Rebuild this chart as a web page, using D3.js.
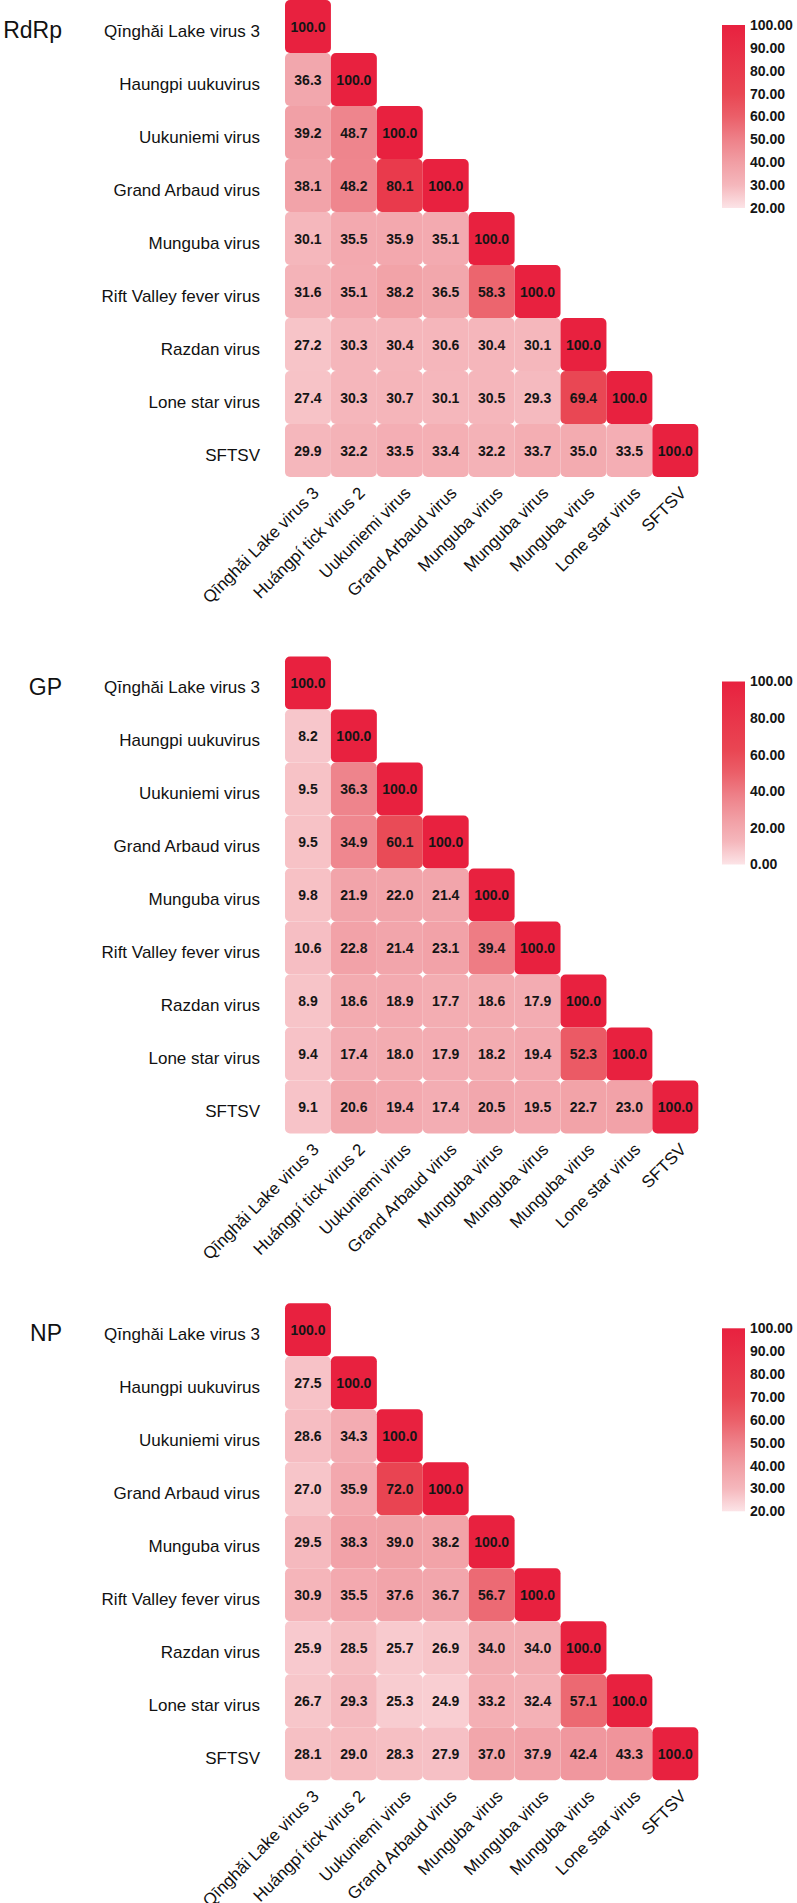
<!DOCTYPE html>
<html>
<head>
<meta charset="utf-8">
<script src="https://cdn.jsdelivr.net/npm/d3@7"></script>
<style>
body { margin: 0; background: #fff; }
text { font-family: "Liberation Sans", Arial, sans-serif; }
</style>
</head>
<body>
<div id="viz"></div>
<script>
// labels of the matrix
var rowNames = ["Qīnghǎi Lake virus 3", "Haungpi uukuvirus", "Uukuniemi virus", "Grand Arbaud virus",
  "Munguba virus", "Rift Valley fever virus", "Razdan virus", "Lone star virus", "SFTSV"];
var colNames = ["Qīnghǎi Lake virus 3", "Huángpí tick virus 2", "Uukuniemi virus", "Grand Arbaud virus",
  "Munguba virus", "Munguba virus", "Munguba virus", "Lone star virus", "SFTSV"];

// identity (%) lower triangles, row by row
var rdrpValues = [
  [100.0],
  [36.3, 100.0],
  [39.2, 48.7, 100.0],
  [38.1, 48.2, 80.1, 100.0],
  [30.1, 35.5, 35.9, 35.1, 100.0],
  [31.6, 35.1, 38.2, 36.5, 58.3, 100.0],
  [27.2, 30.3, 30.4, 30.6, 30.4, 30.1, 100.0],
  [27.4, 30.3, 30.7, 30.1, 30.5, 29.3, 69.4, 100.0],
  [29.9, 32.2, 33.5, 33.4, 32.2, 33.7, 35.0, 33.5, 100.0]
];
var gpValues = [
  [100.0],
  [8.2, 100.0],
  [9.5, 36.3, 100.0],
  [9.5, 34.9, 60.1, 100.0],
  [9.8, 21.9, 22.0, 21.4, 100.0],
  [10.6, 22.8, 21.4, 23.1, 39.4, 100.0],
  [8.9, 18.6, 18.9, 17.7, 18.6, 17.9, 100.0],
  [9.4, 17.4, 18.0, 17.9, 18.2, 19.4, 52.3, 100.0],
  [9.1, 20.6, 19.4, 17.4, 20.5, 19.5, 22.7, 23.0, 100.0]
];
var npValues = [
  [100.0],
  [27.5, 100.0],
  [28.6, 34.3, 100.0],
  [27.0, 35.9, 72.0, 100.0],
  [29.5, 38.3, 39.0, 38.2, 100.0],
  [30.9, 35.5, 37.6, 36.7, 56.7, 100.0],
  [25.9, 28.5, 25.7, 26.9, 34.0, 34.0, 100.0],
  [26.7, 29.3, 25.3, 24.9, 33.2, 32.4, 57.1, 100.0],
  [28.1, 29.0, 28.3, 27.9, 37.0, 37.9, 42.4, 43.3, 100.0]
];

// legend ticks
var rdrpTicks = [20, 30, 40, 50, 60, 70, 80, 90, 100];
var gpTicks = [0, 20, 40, 60, 80, 100];
var npTicks = [20, 30, 40, 50, 60, 70, 80, 90, 100];

var svg = d3.select("#viz")
  .append("svg")
  .attr("width", 797)
  .attr("height", 1903);

var defs = svg.append("defs");

// colour ramp taken off the legend bars, 0 = bottom, 1 = top
var ramp = d3.scaleLinear()
  .domain([0, 0.125, 0.25, 0.375, 0.5, 0.625, 1])
  .range(["#fce4e7", "#f5b7bc", "#f19ea4", "#ee8189", "#eb5f69", "#e94653", "#e8213f"])
  .clamp(true);

var x = d3.scaleBand()
  .domain(d3.range(colNames.length))
  .range([285, 698.3]);

var y = d3.scaleBand()
  .domain(d3.range(rowNames.length))
  .range([0, 477]);

function panel(name, values, ticks, top) {
  var g = svg.append("g").attr("transform", "translate(0," + top + ")");
  var lo = d3.min(ticks), hi = d3.max(ticks);
  var t = d3.scaleLinear().domain([lo, hi]).range([0, 1]);

  // flatten the triangle into cells
  var cells = [];
  values.forEach(function(row, i) {
    row.forEach(function(v, j) { cells.push({i: i, j: j, v: v}); });
  });

  g.selectAll("rect.cell").data(cells).enter()
    .append("rect")
    .attr("class", "cell")
    .attr("x", function(d) { return x(d.j); })
    .attr("y", function(d) { return y(d.i); })
    .attr("width", x.bandwidth())
    .attr("height", y.bandwidth())
    .attr("rx", 5)
    .style("fill", function(d) { return ramp(t(d.v)); });

  g.selectAll("text.val").data(cells).enter()
    .append("text")
    .attr("class", "val")
    .attr("x", function(d) { return x(d.j) + x.bandwidth() / 2; })
    .attr("y", function(d) { return y(d.i) + y.bandwidth() / 2; })
    .attr("dy", "0.36em")
    .attr("text-anchor", "middle")
    .style("font-size", "14px")
    .style("font-weight", "bold")
    .style("fill", "#151515")
    .text(function(d) { return d.v.toFixed(1); });

  // row names
  g.append("g")
    .attr("transform", "translate(285,0)")
    .call(d3.axisLeft(y).tickSize(0).tickPadding(25).tickFormat(function(i) { return rowNames[i]; }))
    .call(function(a) { a.select(".domain").remove(); })
    .selectAll("text")
    .attr("dy", "0.61em")
    .style("font-size", "17px")
    .style("font-family", "'Liberation Sans', Arial, sans-serif")
    .style("fill", "#111");

  // column names, slanted
  g.append("g")
    .attr("transform", "translate(0," + y.range()[1] + ")")
    .call(d3.axisBottom(x).tickSize(0).tickFormat(function(i) { return colNames[i]; }))
    .call(function(a) { a.select(".domain").remove(); })
    .selectAll("text")
    .attr("x", 12)
    .attr("y", 17)
    .attr("dy", 0)
    .attr("text-anchor", "end")
    .attr("transform", "rotate(-45,12,17)")
    .style("font-size", "17px")
    .style("font-family", "'Liberation Sans', Arial, sans-serif")
    .style("fill", "#111");

  // panel title
  g.append("text")
    .attr("x", 62)
    .attr("y", 38)
    .attr("text-anchor", "end")
    .style("font-size", "23px")
    .style("fill", "#111")
    .text(name);

  // legend bar
  var gid = "grad-" + name;
  var grad = defs.append("linearGradient")
    .attr("id", gid)
    .attr("x1", 0).attr("y1", 1).attr("x2", 0).attr("y2", 0);
  grad.selectAll("stop").data(ramp.domain()).enter()
    .append("stop")
    .attr("offset", function(d) { return d; })
    .attr("stop-color", function(d) { return ramp(d); });

  var ly = d3.scaleLinear().domain([lo, hi]).range([208, 25]);
  g.append("rect")
    .attr("x", 722)
    .attr("y", ly(hi))
    .attr("width", 23)
    .attr("height", ly(lo) - ly(hi))
    .style("fill", "url(#" + gid + ")");

  g.append("g")
    .attr("transform", "translate(745,0)")
    .call(d3.axisRight(ly).tickValues(ticks).tickSize(0).tickPadding(5).tickFormat(d3.format(".2f")))
    .call(function(a) { a.select(".domain").remove(); })
    .selectAll("text")
    .style("font-size", "14px")
    .style("font-weight", "bold")
    .style("font-family", "'Liberation Sans', Arial, sans-serif")
    .style("fill", "#151515");
}

panel("RdRp", rdrpValues, rdrpTicks, 0);
panel("GP", gpValues, gpTicks, 656.5);
panel("NP", npValues, npTicks, 1303.3);
</script>
</body>
</html>
